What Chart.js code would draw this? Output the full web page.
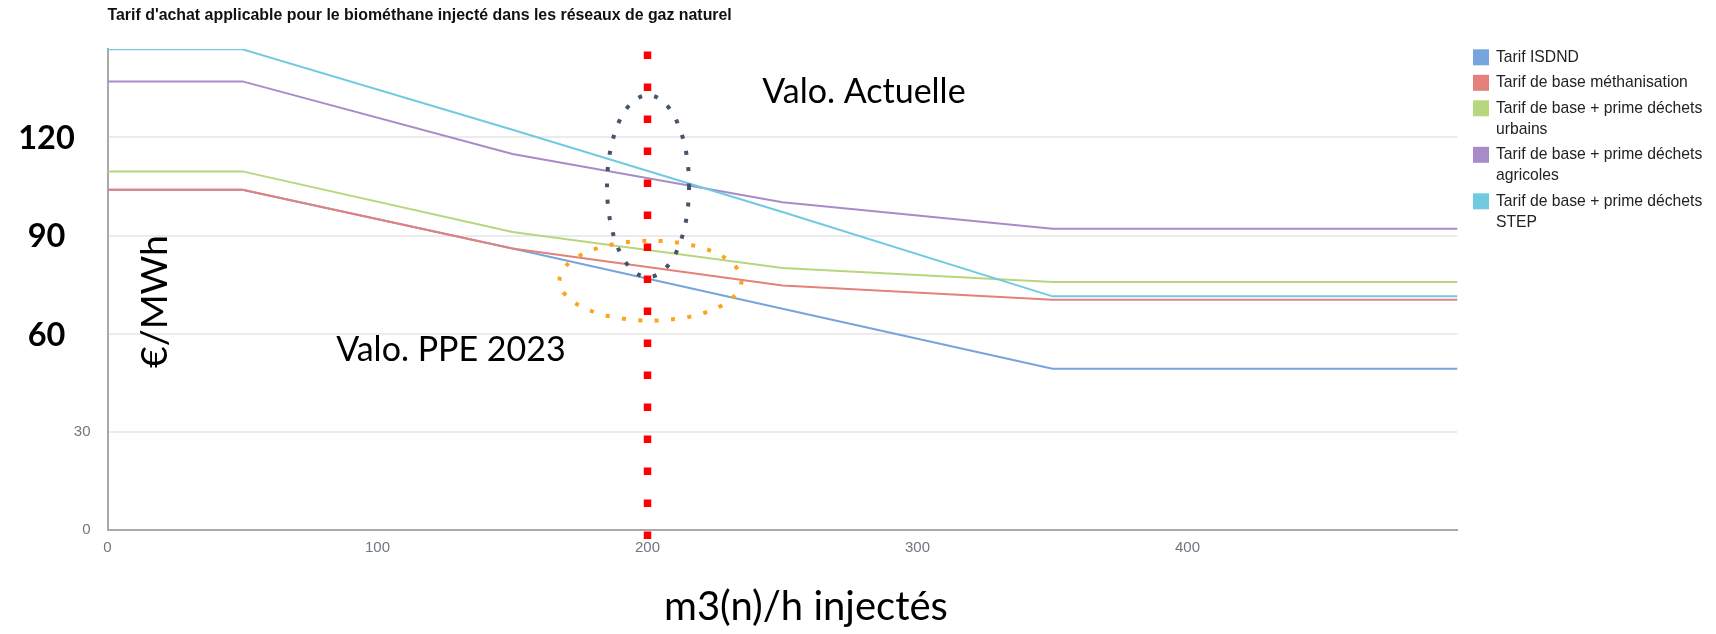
<!DOCTYPE html>
<html lang="fr">
<head>
<meta charset="utf-8">
<title>Tarif d'achat biométhane</title>
<script src="https://cdn.jsdelivr.net/npm/chart.js@4.4.1/dist/chart.umd.min.js"></script>
<style>
  html, body { margin: 0; padding: 0; background: #ffffff; }
  #wrap { position: relative; width: 1716px; height: 634px; }
</style>
</head>
<body>
<div id="wrap"><canvas id="tarifs"></canvas></div>
<script>
// Débit injecté (m3(n)/h) aux points de rupture des barèmes
const volumes = [0, 50, 150, 250, 350, 500];

// Tarifs d'achat (€/MWh) pour chaque débit
const tarifISDND      = [104.0, 104.0, 86.0, 67.6, 49.3, 49.3];
const tarifBase       = [104.0, 104.0, 86.0, 74.7, 70.4, 70.4];
const tarifUrbains    = [109.6, 109.6, 91.1, 80.1, 75.8, 75.8];
const tarifAgricoles  = [137.1, 137.1, 114.9, 100.2, 92.1, 92.1];
const tarifSTEP       = [146.9, 146.9, 122.3, 97.2, 71.4, 71.4];

const seriesLabels = [
  'Tarif ISDND',
  'Tarif de base méthanisation',
  'Tarif de base + prime déchets urbains',
  'Tarif de base + prime déchets agricoles',
  'Tarif de base + prime déchets STEP'
];

const xTickLabels = [0, 100, 200, 300, 400];
const yTickValues = [0, 30, 60, 90, 120];
const yHighlighted = [60, 90, 120];

// Repère vertical à 200 m3(n)/h
const markerX = 200;
const markerY = [146.2, -2.9];

// Zones entourées (centre et demi-axes en unités des axes)
const zoneActuelle = { x: 200.2, y: 105.1, rx: 15.2, ry: 27.8 };
const zonePPE      = { x: 201.1, y: 76.2,  rx: 33.7, ry: 12.2 };

// Notes placées dans le graphique
const noteActuelle = { text: 'Valo. Actuelle', x: 242.5, y: 130.4 };
const notePPE      = { text: 'Valo. PPE 2023', x: 84.7,  y: 51.5 };

const titleText = "Tarif d'achat applicable pour le biométhane injecté dans les réseaux de gaz naturel";
const yTitle = '€/MWh';
const xTitle = 'm3(n)/h injectés';

const plotFont = "'Liberation Sans', Arial, sans-serif";
const noteFont = "Lato, 'Open Sans', sans-serif";
const seriesColors = ['#76a4dc', '#e3817b', '#b8d67e', '#a98bc8', '#6fcae2'];
const series = [tarifISDND, tarifBase, tarifUrbains, tarifAgricoles, tarifSTEP];

function wrapText(ctx, text, maxWidth) {
  const words = text.split(' ');
  const lines = [];
  let line = '';
  for (const w of words) {
    const test = line ? line + ' ' + w : w;
    if (line && ctx.measureText(test).width > maxWidth) {
      lines.push(line);
      line = w;
    } else {
      line = test;
    }
  }
  if (line) lines.push(line);
  return lines;
}

function dottedEllipse(ctx, chart, zone, color) {
  const xs = chart.scales.x, ys = chart.scales.y;
  const cx = xs.getPixelForValue(zone.x);
  const cy = ys.getPixelForValue(zone.y);
  const rx = Math.abs(xs.getPixelForValue(zone.x + zone.rx) - cx);
  const ry = Math.abs(ys.getPixelForValue(zone.y + zone.ry) - cy);
  ctx.save();
  ctx.strokeStyle = color;
  ctx.lineWidth = 4;
  ctx.lineCap = 'butt';
  ctx.setLineDash([4, 12.4]);
  ctx.beginPath();
  ctx.ellipse(cx, cy, rx, ry, 0, 0, Math.PI * 2);
  ctx.stroke();
  ctx.restore();
}

const decorations = {
  id: 'decorations',
  beforeDatasetDraw(chart, args) {
    if (chart.data.datasets[args.index].role === 'marker') {
      dottedEllipse(chart.ctx, chart, zoneActuelle, '#44546a');
      dottedEllipse(chart.ctx, chart, zonePPE, '#ffa21c');
    }
  },
  afterDraw(chart) {
    const ctx = chart.ctx;
    const xs = chart.scales.x, ys = chart.scales.y;
    ctx.save();

    // Titre
    ctx.font = 'bold 15.9px ' + plotFont;
    ctx.fillStyle = '#111111';
    ctx.textAlign = 'left';
    ctx.textBaseline = 'middle';
    ctx.fillText(titleText, 107.5, 16);

    // Graduations mises en évidence
    ctx.font = 'bold 32.5px ' + noteFont;
    ctx.fillStyle = '#000000';
    ctx.textAlign = 'center';
    ctx.textBaseline = 'middle';
    yHighlighted.forEach(v => ctx.fillText(String(v), 46.5, ys.getPixelForValue(v) + 1.5));

    // Notes
    ctx.font = '34px ' + noteFont;
    ctx.textAlign = 'left';
    ctx.textBaseline = 'alphabetic';
    [noteActuelle, notePPE].forEach(n => ctx.fillText(n.text, xs.getPixelForValue(n.x), ys.getPixelForValue(n.y)));

    // Titres des axes
    ctx.font = '40px ' + noteFont;
    ctx.fillText(xTitle, 664, 620);
    ctx.font = '37.5px ' + noteFont;
    ctx.save();
    ctx.translate(166.5, 301.5);
    ctx.rotate(-Math.PI / 2);
    ctx.textAlign = 'center';
    ctx.fillText(yTitle, 0, 0);
    ctx.restore();

    // Légende
    ctx.font = '15.7px ' + plotFont;
    ctx.textAlign = 'left';
    ctx.textBaseline = 'middle';
    let ly = 57.3;
    chart.data.datasets.filter(d => d.role === 'series').forEach(ds => {
      const lines = wrapText(ctx, ds.label, 228);
      ctx.fillStyle = ds.borderColor;
      ctx.fillRect(1473, ly - 8, 16, 16);
      ctx.fillStyle = '#222222';
      lines.forEach((ln, k) => ctx.fillText(ln, 1496, ly + k * 21));
      ly += 25.5 + 21 * (lines.length - 1);
    });

    ctx.restore();
  }
};

const datasets = series.map((values, i) => ({
  label: seriesLabels[i],
  role: 'series',
  data: volumes.map((v, j) => ({ x: v, y: values[j] })),
  borderColor: seriesColors[i],
  backgroundColor: seriesColors[i],
  borderWidth: 2,
  pointRadius: 0,
  tension: 0,
  order: series.length - i
}));

datasets.push({
  label: 'Repère',
  role: 'marker',
  data: markerY.map(y => ({ x: markerX, y })),
  borderColor: '#ff0000',
  borderWidth: 7.5,
  borderDash: [7.5, 24.5],
  borderCapStyle: 'butt',
  pointRadius: 0,
  clip: false,
  order: 0
});

new Chart(document.getElementById('tarifs'), {
  type: 'line',
  data: { datasets },
  options: {
    responsive: true,
    maintainAspectRatio: false,
    animation: false,
    events: [],
    layout: { padding: { top: 49, right: 258.5, bottom: 0, left: 0 } },
    plugins: {
      legend: { display: false },
      title: { display: false },
      tooltip: { enabled: false }
    },
    scales: {
      x: {
        type: 'linear',
        min: 0,
        max: 500,
        grid: { display: false, drawTicks: false },
        border: { display: true, color: '#a9a9a9', width: 2 },
        ticks: {
          stepSize: 100,
          autoSkip: false,
          maxRotation: 0,
          padding: 9,
          color: '#6f7680',
          font: { family: plotFont, size: 15 },
          callback: v => xTickLabels.includes(v) ? String(v) : ''
        },
        afterFit: s => { s.height = 104; }
      },
      y: {
        type: 'linear',
        min: 0,
        max: 147,
        grid: { color: '#ebebeb', lineWidth: 2, drawTicks: false },
        border: { display: true, color: '#a9a9a9', width: 2 },
        ticks: {
          stepSize: 30,
          includeBounds: false,
          padding: 17,
          color: '#6f7680',
          font: { family: plotFont, size: 15 },
          callback: v => (yTickValues.includes(v) && !yHighlighted.includes(v)) ? String(v) : ''
        },
        afterFit: s => { s.width = 107.5; }
      }
    }
  },
  plugins: [decorations]
});
</script>
</body>
</html>
